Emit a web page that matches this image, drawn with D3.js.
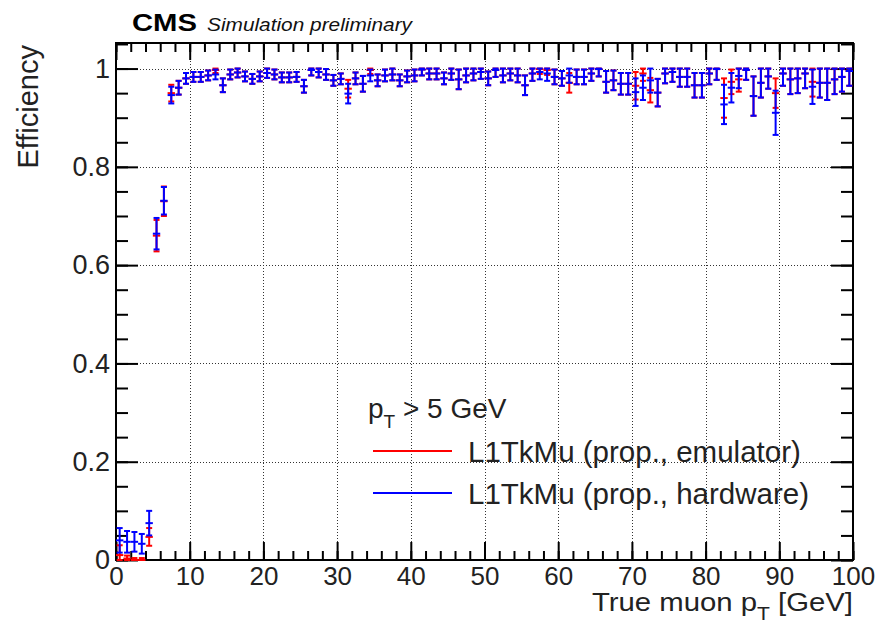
<!DOCTYPE html>
<html>
<head>
<meta charset="utf-8">
<script src="https://cdn.jsdelivr.net/npm/d3@7"></script>
<style>
    body { margin: 0; background: #fff; }
    svg { display: block; font-family: "Liberation Sans", Arial, Helvetica, sans-serif; }
</style>
</head>
<body>
<svg id="chart" width="880" height="627"></svg>
<script>
// Bins: 1 GeV wide, 0 - 100 GeV (value at index i is the bin [i, i+1])
const binEdges = d3.range(0, 101);

// L1TkMu (prop., hardware)
const hwEff = [
    0.040, 0.037, 0.037, 0.033, 0.075, 0.664, 0.731, 0.946, 0.961, 0.980,
    0.983, 0.983, 0.986, 0.988, 0.966, 0.988, 0.992, 0.984, 0.979, 0.984,
    0.991, 0.988, 0.982, 0.982, 0.983, 0.964, 0.997, 0.993, 0.988, 0.976,
    0.979, 0.949, 0.980, 0.969, 0.986, 0.976, 0.986, 0.988, 0.976, 0.984,
    0.986, 0.998, 0.990, 0.990, 0.980, 0.990, 0.978, 0.986, 0.990, 0.993,
    0.980, 0.997, 0.986, 0.990, 0.986, 0.966, 0.990, 0.993, 0.990, 0.983,
    0.980, 0.986, 0.983, 0.983, 0.990, 0.999, 0.973, 0.976, 0.969, 0.969,
    0.952, 0.961, 0.976, 0.951, 0.990, 0.993, 0.983, 0.983, 0.966, 0.966,
    0.990, 0.999, 0.927, 0.961, 0.985, 0.997, 0.944, 0.971, 0.984, 0.910,
    0.990, 0.978, 0.980, 0.990, 0.963, 0.971, 0.971, 0.978, 0.983, 0.995
];
const hwErr = [
    0.025, 0.022, 0.020, 0.020, 0.025, 0.032, 0.028, 0.017, 0.014, 0.011,
    0.010, 0.010, 0.010, 0.010, 0.014, 0.010, 0.010, 0.010, 0.010, 0.010,
    0.010, 0.010, 0.010, 0.010, 0.010, 0.013, 0.011, 0.011, 0.011, 0.011,
    0.011, 0.020, 0.012, 0.016, 0.012, 0.012, 0.012, 0.012, 0.012, 0.012,
    0.012, 0.012, 0.012, 0.012, 0.012, 0.013, 0.020, 0.014, 0.014, 0.014,
    0.014, 0.014, 0.014, 0.014, 0.014, 0.020, 0.015, 0.015, 0.015, 0.015,
    0.015, 0.015, 0.015, 0.015, 0.015, 0.015, 0.022, 0.020, 0.022, 0.022,
    0.028, 0.025, 0.025, 0.028, 0.020, 0.020, 0.020, 0.020, 0.025, 0.025,
    0.022, 0.022, 0.040, 0.030, 0.025, 0.020, 0.040, 0.030, 0.025, 0.045,
    0.025, 0.030, 0.030, 0.030, 0.035, 0.030, 0.035, 0.030, 0.030, 0.030
];

// L1TkMu (prop., emulator)
const emuEff = [
    0.010, 0.003, 0.000, 0.000, 0.047, 0.660, 0.730, 0.950, 0.961, 0.980,
    0.983, 0.983, 0.986, 0.997, 0.966, 0.988, 0.992, 0.984, 0.979, 0.984,
    0.991, 0.988, 0.982, 0.982, 0.983, 0.964, 0.997, 0.993, 0.988, 0.976,
    0.979, 0.959, 0.980, 0.969, 0.997, 0.976, 0.986, 0.988, 0.976, 0.984,
    0.986, 0.998, 0.990, 0.990, 0.980, 0.990, 0.978, 0.986, 0.990, 0.993,
    0.980, 0.997, 0.986, 0.990, 0.986, 0.966, 0.990, 0.999, 0.997, 0.983,
    0.980, 0.971, 0.983, 0.983, 0.990, 0.999, 0.973, 0.976, 0.969, 0.969,
    0.965, 0.990, 0.956, 0.951, 0.990, 0.993, 0.983, 0.983, 0.966, 0.966,
    0.990, 0.999, 0.940, 0.973, 0.978, 0.997, 0.944, 0.971, 0.984, 0.950,
    0.990, 0.978, 0.980, 0.990, 0.973, 0.971, 0.971, 0.978, 0.983, 0.995
];
const emuErr = [
    0.020, 0.006, 0.004, 0.004, 0.018, 0.032, 0.030, 0.017, 0.014, 0.011,
    0.010, 0.010, 0.010, 0.006, 0.014, 0.010, 0.010, 0.010, 0.010, 0.010,
    0.010, 0.010, 0.010, 0.010, 0.010, 0.013, 0.011, 0.011, 0.011, 0.011,
    0.011, 0.018, 0.012, 0.016, 0.008, 0.012, 0.012, 0.012, 0.012, 0.012,
    0.012, 0.012, 0.012, 0.012, 0.012, 0.013, 0.020, 0.014, 0.014, 0.014,
    0.014, 0.014, 0.014, 0.014, 0.014, 0.020, 0.015, 0.010, 0.010, 0.015,
    0.015, 0.020, 0.015, 0.015, 0.015, 0.015, 0.022, 0.020, 0.022, 0.022,
    0.028, 0.015, 0.025, 0.028, 0.020, 0.020, 0.020, 0.020, 0.025, 0.025,
    0.022, 0.022, 0.040, 0.025, 0.025, 0.020, 0.040, 0.030, 0.025, 0.030,
    0.025, 0.030, 0.030, 0.030, 0.030, 0.030, 0.035, 0.030, 0.030, 0.030
];

const series = [
    { name: "L1TkMu (prop., emulator)", color: "#ff0000", eff: emuEff, err: emuErr },
    { name: "L1TkMu (prop., hardware)", color: "#0000ff", eff: hwEff, err: hwErr }
];

const xMajor = [0, 10, 20, 30, 40, 50, 60, 70, 80, 90, 100];
const xMinor = d3.range(0, 101, 2);
const yMajor = [0, 0.2, 0.4, 0.6, 0.8, 1];
const yMinor = d3.range(0, 1.051, 0.05);

/*
 * Layout
 */
const frame = { left: 116, right: 853, top: 43, bottom: 560 };

const svg = d3.select("#chart");

const x = d3.scaleLinear().domain([0, 100]).range([frame.left, frame.right]);
const y = d3.scaleLinear().domain([0, 1.052]).range([frame.bottom, frame.top]);

// Grid (dotted)
const grid = svg.append("g")
    .attr("stroke", "#333")
    .attr("stroke-width", 1)
    .attr("stroke-dasharray", "1,2");

grid.selectAll("line.gx")
    .data(xMajor.slice(1, -1))
    .enter()
    .append("line")
    .attr("x1", d => Math.round(x(d)) + 0.5)
    .attr("x2", d => Math.round(x(d)) + 0.5)
    .attr("y1", frame.top)
    .attr("y2", frame.bottom);

grid.selectAll("line.gy")
    .data(yMajor.slice(1))
    .enter()
    .append("line")
    .attr("x1", frame.left)
    .attr("x2", frame.right)
    .attr("y1", d => Math.round(y(d)) + 0.5)
    .attr("y2", d => Math.round(y(d)) + 0.5);

/**
 * Draw one axis (ticks pointing into the frame)
 */
function drawAxis(axisFn, scale, values, size, transform, labels, pad, fontSize) {
    const axis = axisFn(scale)
        .tickValues(values)
        .tickSize(-size)
        .tickPadding(pad || 0)
        .tickFormat(labels ? d3.format("") : "");
    const g = svg.append("g")
        .attr("transform", transform)
        .call(axis);
    g.select(".domain").remove();
    g.selectAll(".tick line").attr("stroke", "#000").attr("stroke-width", 2);
    g.selectAll(".tick text")
        .attr("fill", "#222")
        .style("font-size", (fontSize || 26) + "px")
        .style("font-family", "'Liberation Sans', Arial, Helvetica, sans-serif");
    return g;
}

// bottom / top
drawAxis(d3.axisBottom, x, xMinor, 9, `translate(0,${frame.bottom})`);
drawAxis(d3.axisBottom, x, xMajor, 18, `translate(0,${frame.bottom})`, true, 7, 26);
drawAxis(d3.axisTop, x, xMinor, 9, `translate(0,${frame.top})`);
drawAxis(d3.axisTop, x, xMajor, 17, `translate(0,${frame.top})`);

// left / right
drawAxis(d3.axisLeft, y, yMinor, 12, `translate(${frame.left},0)`);
drawAxis(d3.axisLeft, y, yMajor, 22, `translate(${frame.left},0)`, true, 6, 27);
drawAxis(d3.axisRight, y, yMinor, 12, `translate(${frame.right},0)`);
drawAxis(d3.axisRight, y, yMajor, 22, `translate(${frame.right},0)`);

// Frame
svg.append("rect")
    .attr("x", frame.left)
    .attr("y", frame.top)
    .attr("width", frame.right - frame.left)
    .attr("height", frame.bottom - frame.top)
    .attr("fill", "none")
    .attr("stroke", "#000")
    .attr("stroke-width", 2);

/*
 * Points with error bars
 */
series.forEach(s => {
    const pts = s.eff.map((e, i) => ({
        lo: binEdges[i],
        hi: binEdges[i + 1],
        mid: (binEdges[i] + binEdges[i + 1]) / 2,
        e: e,
        eLo: Math.max(0, e - s.err[i]),
        eHi: Math.min(1, e + s.err[i])
    }));

    const g = svg.append("g")
        .attr("stroke", s.color)
        .attr("stroke-width", 2)
        .attr("fill", "none");

    const p = g.selectAll("g.pt")
        .data(pts)
        .enter()
        .append("g");

    // x error (bin width)
    p.append("line")
        .attr("x1", d => x(d.lo))
        .attr("x2", d => x(d.hi))
        .attr("y1", d => y(d.e))
        .attr("y2", d => y(d.e));

    // y error
    p.append("line")
        .attr("x1", d => x(d.mid))
        .attr("x2", d => x(d.mid))
        .attr("y1", d => y(d.eLo))
        .attr("y2", d => y(d.eHi));

    // end caps
    p.append("line")
        .attr("x1", d => x(d.mid) - 3)
        .attr("x2", d => x(d.mid) + 3)
        .attr("y1", d => y(d.eLo))
        .attr("y2", d => y(d.eLo));
    p.append("line")
        .attr("x1", d => x(d.mid) - 3)
        .attr("x2", d => x(d.mid) + 3)
        .attr("y1", d => y(d.eHi))
        .attr("y2", d => y(d.eHi));
});

/*
 * Titles
 */
svg.append("text")
    .attr("transform", "translate(38,45) rotate(-90)")
    .attr("text-anchor", "end")
    .attr("fill", "#222")
    .style("font-size", "29px")
    .text("Efficiency");

// x title: narrower glyph height than the width suggests, so stretch it
const xTitle = svg.append("text")
    .attr("x", 592)
    .attr("y", 611)
    .attr("textLength", 261)
    .attr("lengthAdjust", "spacingAndGlyphs")
    .attr("fill", "#222")
    .style("font-size", "25px");
xTitle.append("tspan").text("True muon p");
xTitle.append("tspan").attr("dy", 9).style("font-size", "18px").text("T");
xTitle.append("tspan").attr("dy", -9).text(" [GeV]");

svg.append("text")
    .attr("x", 132)
    .attr("y", 31)
    .attr("textLength", 65)
    .attr("lengthAdjust", "spacingAndGlyphs")
    .style("font-size", "23px")
    .style("font-weight", "bold")
    .text("CMS");

svg.append("text")
    .attr("x", 207)
    .attr("y", 31)
    .attr("textLength", 205)
    .attr("lengthAdjust", "spacingAndGlyphs")
    .style("font-size", "18px")
    .style("font-style", "italic")
    .attr("fill", "#111")
    .text("Simulation preliminary");

/*
 * Legend
 */
const legend = svg.append("g");

const header = legend.append("text")
    .attr("x", 368)
    .attr("y", 418)
    .attr("fill", "#222")
    .style("font-size", "28px");
header.append("tspan").text("p");
header.append("tspan").attr("dy", 10).style("font-size", "19px").text("T");
header.append("tspan").attr("dy", -10).text(" > 5 GeV");

const legendRows = [451, 493];

series.forEach((s, i) => {
    legend.append("line")
        .attr("x1", 373)
        .attr("x2", 452)
        .attr("y1", legendRows[i])
        .attr("y2", legendRows[i])
        .attr("stroke", s.color)
        .attr("stroke-width", 2);
    legend.append("text")
        .attr("x", 468)
        .attr("y", legendRows[i] + 11)
        .attr("fill", "#222")
        .style("font-size", "29.5px")
        .text(s.name);
});
</script>
</body>
</html>
